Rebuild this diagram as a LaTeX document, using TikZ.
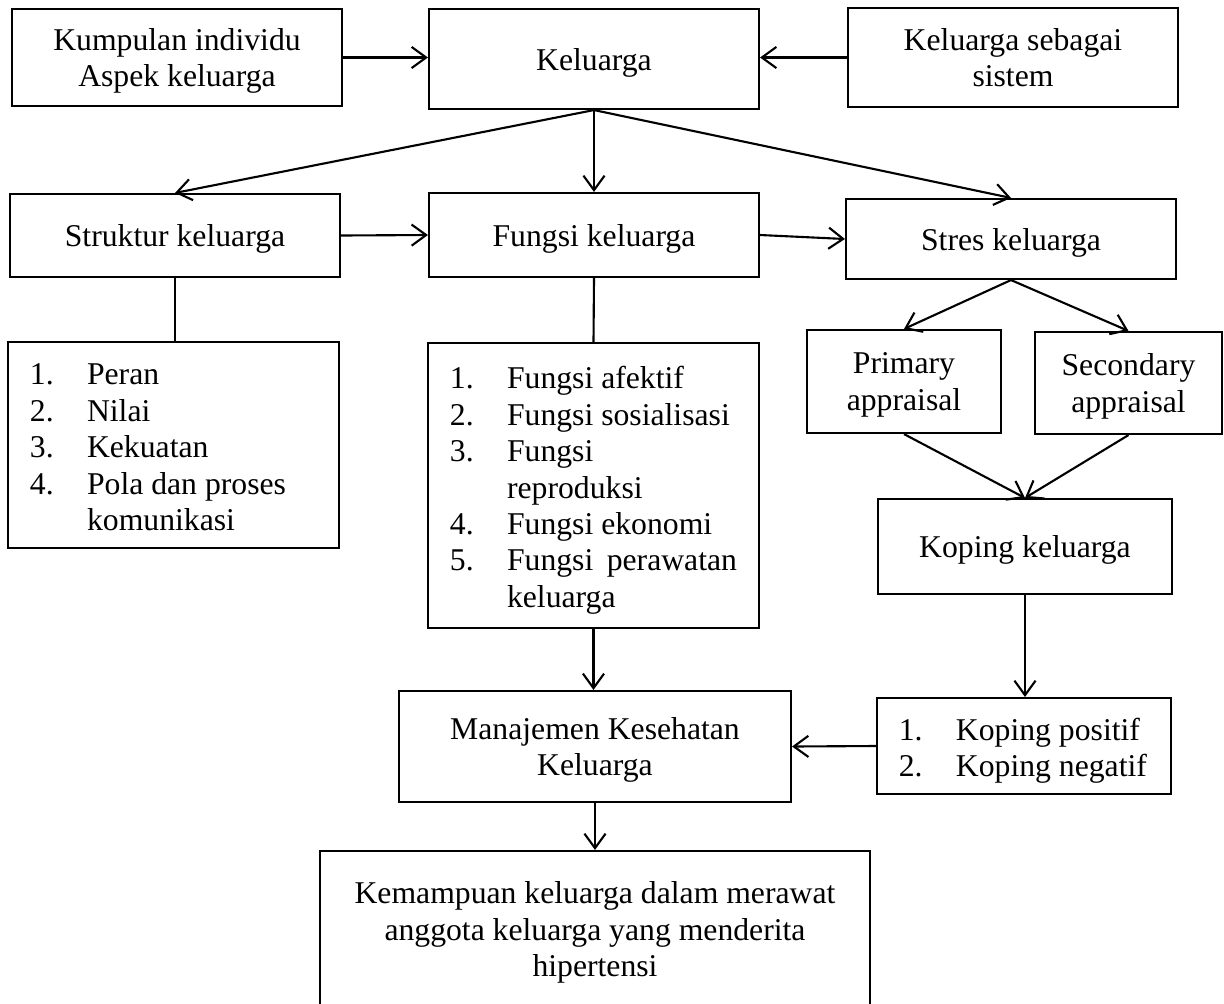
\documentclass[tikz,border=0pt]{standalone}
\usepackage{fontspec}
\setmainfont{Liberation Serif}
\usepackage{array}
\usetikzlibrary{arrows.meta}

\begin{document}
\begin{tikzpicture}[x=0.0133cm, y=-0.0133cm,
        line width=0.8pt,
        font=\fontsize{12}{13.8}\selectfont,
        kotak/.style={draw, align=center, inner sep=2pt, text depth=0pt},
        ukuran/.style 2 args={minimum width=#1*0.0133cm, minimum height=#2*0.0133cm},
        daftar/.style={draw, inner xsep=0.29cm, inner ysep=0pt},
        panah/.style={-{Straight Barb[length=5.5pt, width=8pt]}}
    ]
    \useasboundingbox (0,0) rectangle (1224,1003);

    % baris atas
    \node[kotak, ukuran={330}{97}] (kumpulan) at (177,57.5) {Kumpulan individu\\Aspek keluarga};
    \node[kotak, ukuran={330}{100}] (keluarga) at (594,59) {Keluarga};
    \node[kotak, ukuran={330}{99}] (sistem) at (1013,57.5) {Keluarga sebagai\\sistem};

    % baris kedua
    \node[kotak, ukuran={330}{83}] (struktur) at (175,235.5) {Struktur keluarga};
    \node[kotak, ukuran={330}{84}] (fungsi) at (594,235) {Fungsi keluarga};
    \node[kotak, ukuran={330}{80}] (stres) at (1011,239) {Stres keluarga};

    % daftar
    \node[daftar, ukuran={331}{206}] (peran) at (173.5,445) {%
        \begin{tabular}{@{}p{0.76cm}@{}p{3.06cm}@{}}
            \noalign{\vspace{4pt}}
            1. & Peran\\
            2. & Nilai\\
            3. & Kekuatan\\
            4. & Pola dan proses\newline komunikasi
        \end{tabular}};
    \node[daftar, ukuran={331}{285}] (fungsilist) at (593.5,485.5) {%
        \begin{tabular}{@{}p{0.76cm}@{}p{3.06cm}@{}}
            \noalign{\vspace{4pt}}
            1. & Fungsi afektif\\
            2. & Fungsi sosialisasi\\
            3. & Fungsi\newline reproduksi\\
            4. & Fungsi ekonomi\\
            5. & Fungsi perawatan\linebreak keluarga
        \end{tabular}};

    \node[kotak, ukuran={194}{103}] (primary) at (904,381.5) {Primary\\appraisal};
    \node[kotak, ukuran={187}{102}] (secondary) at (1128.5,383) {Secondary\\appraisal};
    \node[kotak, ukuran={294}{95}] (koping) at (1025,546.5) {Koping keluarga};
    \node[daftar, ukuran={294}{96}] (kopinglist) at (1024,746) {%
        \begin{tabular}{@{}p{0.76cm}@{}p{2.57cm}@{}}
            \noalign{\vspace{4pt}}
            1. & Koping positif\\
            2. & Koping negatif
        \end{tabular}};

    \node[kotak, ukuran={392}{111}] (manajemen) at (595,746.5) {Manajemen Kesehatan\\Keluarga};
    \node[kotak, ukuran={550}{156}] (kemampuan) at (595,929) {Kemampuan keluarga dalam merawat\\anggota keluarga yang menderita\\hipertensi};

    \draw[panah] (kumpulan.east) -- (kumpulan.east -| keluarga.west);
    \draw[panah] (sistem.west) -- (sistem.west -| keluarga.east);
    \draw[panah] (keluarga.south) -- (struktur.north);
    \draw[panah] (keluarga.south) -- (fungsi.north);
    \draw[panah] (keluarga.south) -- (stres.north);
    \draw[panah] (struktur.east) -- (fungsi.west);
    \draw[panah] (fungsi.east) -- (stres.west);
    \draw (struktur.south) -- (struktur.south |- peran.north);
    \draw (fungsi.south) -- (fungsilist.north);
    \draw[panah] (stres.south) -- (primary.north);
    \draw[panah] (stres.south) -- (secondary.north);
    \draw[panah] (primary.south) -- (koping.north);
    \draw[panah] (secondary.south) -- (koping.north);
    \draw[panah] (koping.south) -- (koping.south |- kopinglist.north);
    \draw[panah] (fungsilist.south) -- (fungsilist.south |- manajemen.north);
    \draw[panah] (kopinglist.west) -- (manajemen.east);
    \draw[panah] (manajemen.south) -- (kemampuan.north);
\end{tikzpicture}
\end{document}
